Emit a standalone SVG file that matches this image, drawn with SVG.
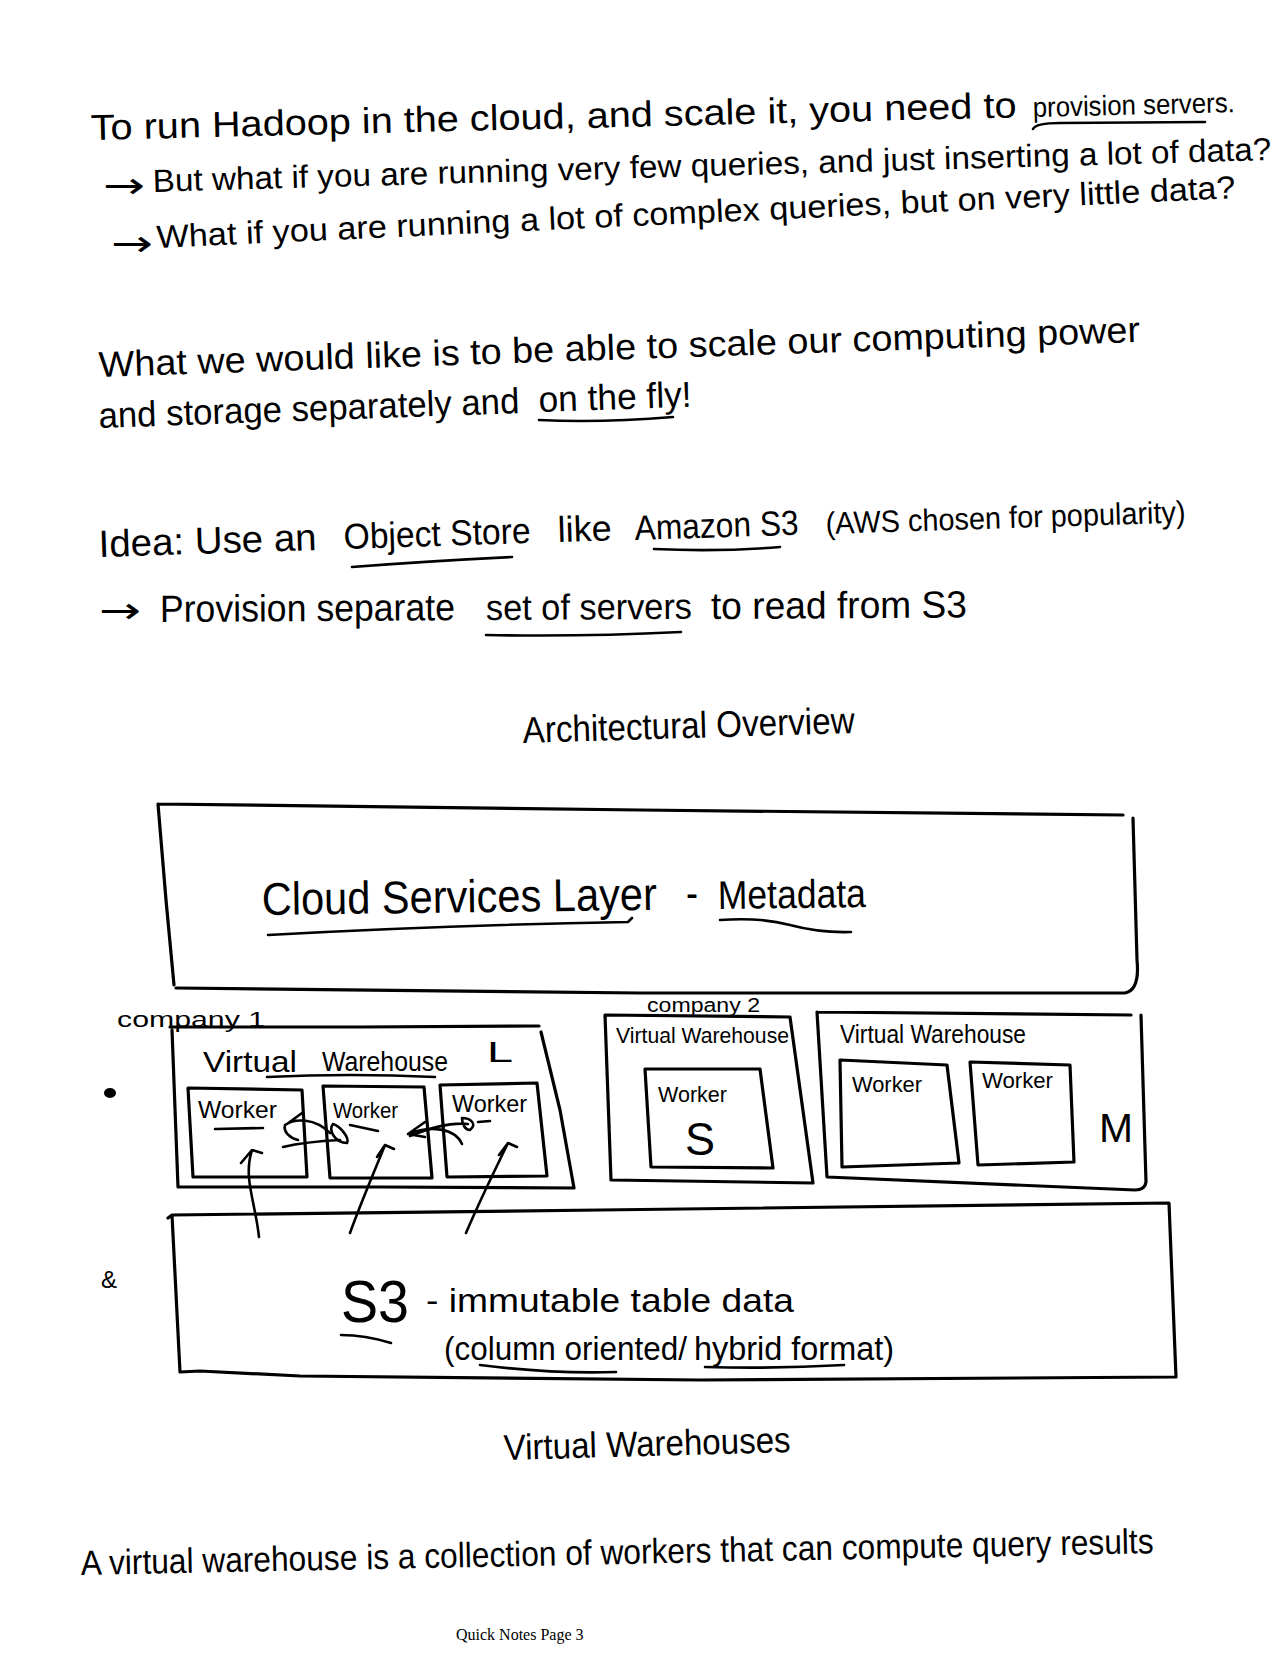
<svg xmlns="http://www.w3.org/2000/svg" width="1275" height="1653" viewBox="0 0 1275 1653">
<style>
  .h { font-family: "Liberation Sans", "DejaVu Sans", sans-serif; fill: #000; }
  .arw { font-family: "DejaVu Sans", sans-serif; fill: #000; font-size: 36px; }
  .box { fill: none; stroke: #000; stroke-width: 3.2; stroke-linecap: round; stroke-linejoin: round; }
  .ul { fill: none; stroke: #000; stroke-width: 2.6; stroke-linecap: round; }
  .ar { fill: none; stroke: #000; stroke-width: 2.6; stroke-linecap: round; stroke-linejoin: round; }
  .foot { font-family: "Liberation Serif", "Times New Roman", serif; font-size: 16px; fill: #000; }
</style>
<rect width="1275" height="1653" fill="#fff"/>

<g id="notes-top">
  <text class="h" x="91" y="140" font-size="36" textLength="926" lengthAdjust="spacingAndGlyphs" transform="rotate(-1.40 91 140)">To run Hadoop in the cloud, and scale it, you need to</text>
  <text class="h" x="1033" y="117" font-size="28" textLength="202" lengthAdjust="spacingAndGlyphs" transform="rotate(-1.40 1033 117)">provision servers.</text>
  <path class="ul" d="M1033,129 Q1036,123 1060,123 L1205,122"/>
  <text class="arw" x="103" y="198" textLength="42" lengthAdjust="spacingAndGlyphs">→</text>
  <text class="h" x="153" y="192" font-size="32" textLength="1119" lengthAdjust="spacingAndGlyphs" transform="rotate(-1.64 153 192)">But what if you are running very few queries, and just inserting a lot of data?</text>
  <text class="arw" x="111" y="256" textLength="42" lengthAdjust="spacingAndGlyphs">→</text>
  <text class="h" x="157" y="248" font-size="32" textLength="1080" lengthAdjust="spacingAndGlyphs" transform="rotate(-2.65 157 248)">What if you are running a lot of complex queries, but on very little data?</text>
  <text class="h" x="99" y="377" font-size="36" textLength="1042" lengthAdjust="spacingAndGlyphs" transform="rotate(-1.93 99 377)">What we would like is to be able to scale our computing power</text>
  <text class="h" x="99" y="428" font-size="36" textLength="421" lengthAdjust="spacingAndGlyphs" transform="rotate(-2.03 99 428)">and storage separately and</text>
  <text class="h" x="539" y="412" font-size="36" textLength="153" lengthAdjust="spacingAndGlyphs" transform="rotate(-2.03 539 412)">on the fly!</text>
  <path class="ul" d="M539,420 Q600,423 673,417"/>
  <text class="h" x="99" y="557" font-size="38" textLength="218" lengthAdjust="spacingAndGlyphs" transform="rotate(-1.84 99 557)">Idea: Use an</text>
  <text class="h" x="344" y="549" font-size="36" textLength="187" lengthAdjust="spacingAndGlyphs" transform="rotate(-1.84 344 549)">Object Store</text>
  <text class="h" x="558" y="542" font-size="36" textLength="54" lengthAdjust="spacingAndGlyphs" transform="rotate(-1.84 558 542)">like</text>
  <text class="h" x="635" y="540" font-size="35" textLength="164" lengthAdjust="spacingAndGlyphs" transform="rotate(-1.84 635 540)">Amazon S3</text>
  <text class="h" x="826" y="534" font-size="31" textLength="360" lengthAdjust="spacingAndGlyphs" transform="rotate(-1.84 826 534)">(AWS chosen for popularity)</text>
  <path class="ul" d="M352,567 Q430,561 512,557"/>
  <path class="ul" d="M654,549 Q720,552 780,547"/>
  <text class="arw" x="99" y="623" textLength="42" lengthAdjust="spacingAndGlyphs">→</text>
  <text class="h" x="160" y="622" font-size="38" textLength="295" lengthAdjust="spacingAndGlyphs" transform="rotate(-0.35 160 622)">Provision separate</text>
  <text class="h" x="486" y="620" font-size="36" textLength="206" lengthAdjust="spacingAndGlyphs" transform="rotate(-0.35 486 620)">set of servers</text>
  <text class="h" x="711" y="619" font-size="38" textLength="256" lengthAdjust="spacingAndGlyphs" transform="rotate(-0.35 711 619)">to read from S3</text>
  <path class="ul" d="M486,635 Q580,637 681,632"/>
  <text class="h" x="523" y="743" font-size="37" textLength="332" lengthAdjust="spacingAndGlyphs" transform="rotate(-1.73 523 743)">Architectural Overview</text>
</g>

<g id="cloud-services-layer">
  <path class="box" d="M158,804 L640,810 L1123,815 M1133,818 L1137,960 Q1140,990 1125,993 L640,993 L176,988 M158,804 L166,900 L174,985"/>
  <text class="h" x="262" y="915" font-size="46" textLength="395" lengthAdjust="spacingAndGlyphs" transform="rotate(-0.76 262 915)">Cloud Services Layer</text>
  <text class="h" x="686" y="909" font-size="46" textLength="12" lengthAdjust="spacingAndGlyphs">-</text>
  <text class="h" x="718" y="909" font-size="40" textLength="148" lengthAdjust="spacingAndGlyphs" transform="rotate(-0.76 718 909)">Metadata</text>
  <path class="ul" d="M268,935 Q450,925 628,922 L632,918"/>
  <path class="ul" d="M720,920 Q760,917 790,925 Q820,933 851,932"/>
</g>

<g id="vw-large">
  <text class="h" x="117" y="1027" font-size="22" textLength="148" lengthAdjust="spacingAndGlyphs">company 1</text>
  <path class="box" d="M170,1027 L360,1027 L539,1026 M541,1032 L560,1110 L574,1188 L380,1187 L178,1187 L172,1030"/>
  <text class="h" x="203" y="1072" font-size="29" textLength="94" lengthAdjust="spacingAndGlyphs">Virtual</text>
  <text class="h" x="322" y="1071" font-size="27" textLength="126" lengthAdjust="spacingAndGlyphs">Warehouse</text>
  <path class="ul" d="M267,1077 Q350,1073 435,1077"/>
  <text class="h" x="487" y="1062" font-size="30" textLength="26" lengthAdjust="spacingAndGlyphs">L</text>
  <g id="worker-l1">
    <path class="box" d="M188,1088 L302,1090 L307,1177 L193,1177 Z"/>
    <text class="h" x="198" y="1118" font-size="24" textLength="79" lengthAdjust="spacingAndGlyphs">Worker</text>
    <path class="ul" d="M215,1129 L263,1128"/>
  </g>
  <g id="worker-l2">
    <path class="box" d="M323,1086 L424,1087 L432,1178 L330,1178 Z"/>
    <text class="h" x="333" y="1118" font-size="22" textLength="65" lengthAdjust="spacingAndGlyphs">Worker</text>
  </g>
  <g id="worker-l3">
    <path class="box" d="M440,1085 L537,1083 L547,1176 L447,1177 Z"/>
    <text class="h" x="452" y="1112" font-size="24" textLength="75" lengthAdjust="spacingAndGlyphs">Worker</text>
  </g>
</g>

<g id="vw-small">
  <path class="box" d="M605,1015 L790,1017 L813,1183 L611,1180 Z"/>
  <text class="h" x="647" y="1012" font-size="20" textLength="113" lengthAdjust="spacingAndGlyphs">company 2</text>
  <text class="h" x="616" y="1043" font-size="22" textLength="173" lengthAdjust="spacingAndGlyphs">Virtual Warehouse</text>
  <g id="worker-s1">
    <path class="box" d="M645,1069 L760,1069 L773,1168 L651,1167 Z"/>
    <text class="h" x="658" y="1102" font-size="22" textLength="69" lengthAdjust="spacingAndGlyphs">Worker</text>
    <text class="h" x="685" y="1155" font-size="46" textLength="30" lengthAdjust="spacingAndGlyphs">S</text>
  </g>
</g>

<g id="vw-medium">
  <path class="box" d="M817,1012 L1131,1015 M1141,1015 L1146,1182 Q1145,1190 1135,1190 L827,1177 L817,1012"/>
  <text class="h" x="840" y="1043" font-size="25" textLength="186" lengthAdjust="spacingAndGlyphs">Virtual Warehouse</text>
  <g id="worker-m1">
    <path class="box" d="M840,1060 L947,1065 L959,1163 L842,1167 Z"/>
    <text class="h" x="852" y="1092" font-size="22" textLength="70" lengthAdjust="spacingAndGlyphs">Worker</text>
  </g>
  <g id="worker-m2">
    <path class="box" d="M970,1062 L1070,1065 L1074,1162 L978,1165 Z"/>
    <text class="h" x="982" y="1088" font-size="22" textLength="71" lengthAdjust="spacingAndGlyphs">Worker</text>
  </g>
  <text class="h" x="1099" y="1142" font-size="40" textLength="34" lengthAdjust="spacingAndGlyphs">M</text>
</g>

<g id="s3">
  <path class="box" d="M168,1218 L172,1215 L600,1210 L1169,1203 L1176,1377 L700,1380 L300,1376 L200,1371 L180,1372 L172,1215"/>
  <text class="h" x="341" y="1322" font-size="60" textLength="68" lengthAdjust="spacingAndGlyphs">S3</text>
  <text class="h" x="426" y="1312" font-size="34" textLength="368" lengthAdjust="spacingAndGlyphs">- immutable table data</text>
  <text class="h" x="444" y="1360" font-size="34" textLength="243" lengthAdjust="spacingAndGlyphs">(column oriented/</text>
  <text class="h" x="694" y="1360" font-size="34" textLength="200" lengthAdjust="spacingAndGlyphs">hybrid format)</text>
  <path class="ul" d="M341,1335 Q365,1335 391,1343"/>
  <path class="ul" d="M480,1365 Q550,1374 616,1372"/>
  <path class="ul" d="M705,1367 Q775,1369 844,1365"/>
</g>

<g id="margin-marks">
  <ellipse cx="110" cy="1093" rx="6" ry="5" fill="#000"/>
  <text class="h" x="101" y="1288" font-size="24">&amp;</text>
</g>

<g id="connectors">
  <path class="ar" d="M259,1237 C255,1200 243,1178 252,1150 M241,1163 L252,1150 L262,1153"/>
  <path class="ar" d="M350,1233 C362,1200 375,1170 385,1145 M377,1157 L385,1145 L394,1149"/>
  <path class="ar" d="M466,1233 C480,1200 495,1170 508,1143 M499,1155 L508,1143 L517,1147"/>
  <path class="ar" d="M283,1147 C300,1143 320,1141 340,1140 M333,1124 C328,1130 335,1143 347,1143 C350,1138 340,1126 333,1124"/>
  <path class="ar" d="M330,1133 C315,1118 295,1118 285,1125 C283,1132 290,1138 298,1140 M287,1124 L302,1113"/>
  <path class="ar" d="M350,1125 L378,1131"/>
  <path class="ar" d="M462,1144 C455,1128 430,1125 408,1134 M408,1134 L425,1122 M408,1134 L425,1137"/>
  <path class="ar" d="M410,1136 C430,1128 450,1122 468,1124 M462,1118 C470,1118 478,1124 470,1130 C465,1130 462,1124 462,1118 M478,1122 L490,1121"/>
</g>

<g id="notes-bottom">
  <text class="h" x="504" y="1460" font-size="36" textLength="287" lengthAdjust="spacingAndGlyphs" transform="rotate(-1.6 504 1460)">Virtual Warehouses</text>
  <text class="h" x="81" y="1575" font-size="35" textLength="1073" lengthAdjust="spacingAndGlyphs" transform="rotate(-1.17 81 1575)">A virtual warehouse is a collection of workers that can compute query results</text>
  <text class="foot" x="456" y="1640">Quick Notes Page 3</text>
</g>
</svg>
